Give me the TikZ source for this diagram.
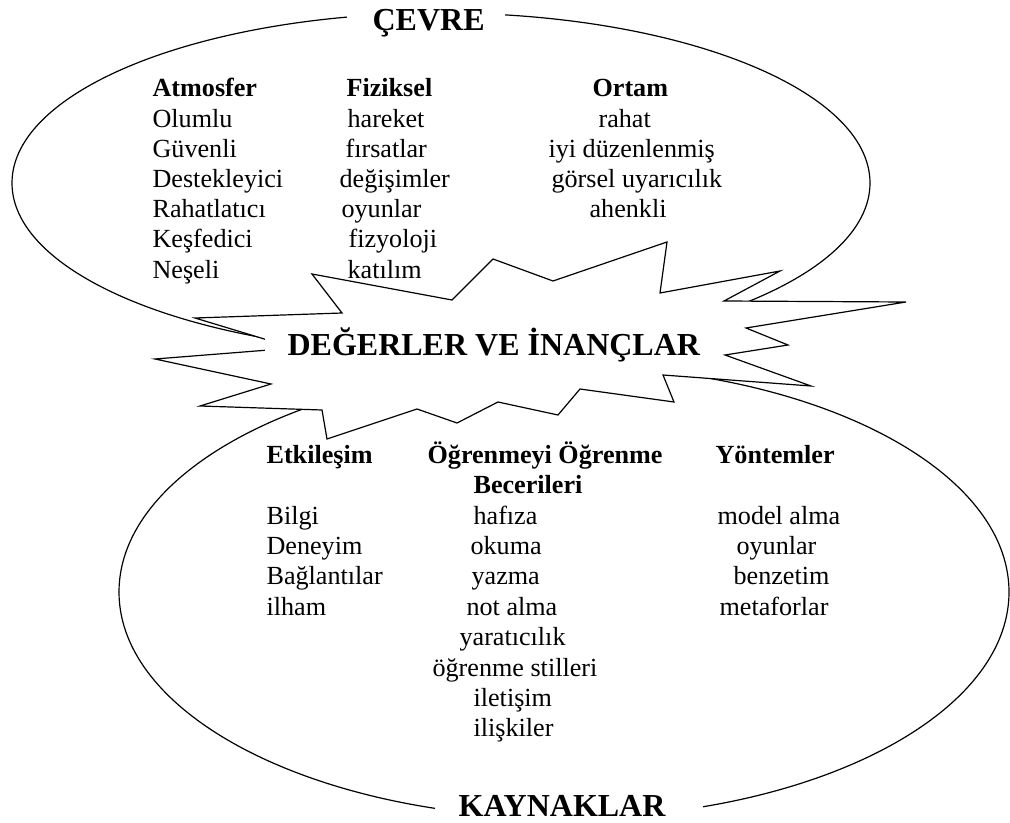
\documentclass[tikz,border=0pt]{standalone}
\usepackage{fontspec}
\setmainfont{Liberation Serif}
\begin{document}
\begin{tikzpicture}[x=0.75pt,y=-0.75pt,line width=0.9pt,
  txt/.style={anchor=base west,inner sep=0pt,font=\fontsize{19.6}{23}\selectfont},
  hd/.style={anchor=base west,inner sep=0pt,font=\fontsize{19.6}{23}\selectfont\bfseries},
  big/.style={anchor=base west,inner sep=0pt,font=\fontsize{24}{28}\selectfont\bfseries}]
\useasboundingbox (0,0) rectangle (1010,823);
% ellipses
\draw (441,183) ellipse [x radius=429, y radius=170];
\draw (564,592) ellipse [x radius=445, y radius=226];
% starburst
\filldraw[fill=white,line join=miter] (195,318) -- (342,313) -- (312,274) -- (452,300) -- (493,259) -- (553,281) -- (667,242) -- (660,293) -- (780,271) -- (724,301) -- (906,302) -- (746,328) -- (788,345) -- (725,355) -- (811,386) -- (663,375) -- (674,402) -- (580,389) -- (558,415) -- (498,402) -- (457,423) -- (417,409) -- (327,439) -- (322,410) -- (200,406) -- (271,384) -- (155,359) -- (294,348) -- cycle;
% white label boxes
\fill[white] (265,322) rectangle (718,372);
\fill[white] (347,0) rectangle (505,40);
\fill[white] (435,785) rectangle (703,823);
% titles
\node[big] (cevre) at (372,31) {ÇEVRE};
\node[big] (deger) at (287,356) {DEĞERLER VE İNANÇLAR};
\node[big] (kaynak) at (458,816) {KAYNAKLAR};
% upper columns
\node[hd]  (a0) at (152,97) {Atmosfer};
\node[txt] (a1) at (152,127.2) {Olumlu};
\node[txt] (a2) at (152,157.4) {Güvenli};
\node[txt] (a3) at (152,187.6) {Destekleyici};
\node[txt] (a4) at (152,217.8) {Rahatlatıcı};
\node[txt] (a5) at (152,248) {Keşfedici};
\node[txt] (a6) at (152,278.2) {Neşeli};
\node[hd]  (f0) at (346,97) {Fiziksel};
\node[txt] (f1) at (347,127.2) {hareket};
\node[txt] (f2) at (345,157.4) {fırsatlar};
\node[txt] (f3) at (339,187.6) {değişimler};
\node[txt] (f4) at (341,217.8) {oyunlar};
\node[txt] (f5) at (348,248) {fizyoloji};
\node[txt] (f6) at (347,278.2) {katılım};
\node[hd]  (o0) at (592,97) {Ortam};
\node[txt] (o1) at (598,127.2) {rahat};
\node[txt] (o2) at (548,157.4) {iyi düzenlenmiş};
\node[txt] (o3) at (551,187.6) {görsel uyarıcılık};
\node[txt] (o4) at (589,217.8) {ahenkli};
% lower columns
\node[hd]  (e0) at (266,463) {Etkileşim};
\node[txt] (e1) at (266,524) {Bilgi};
\node[txt] (e2) at (266,554.4) {Deneyim};
\node[txt] (e3) at (266,584.8) {Bağlantılar};
\node[txt] (e4) at (266,615.2) {ilham};
\node[hd]  (g0) at (427,463) {Öğrenmeyi Öğrenme};
\node[hd]  (g1) at (473,493.5) {Becerileri};
\node[txt] (g2) at (473,524) {hafıza};
\node[txt] (g3) at (470,554.4) {okuma};
\node[txt] (g4) at (471,584.8) {yazma};
\node[txt] (g5) at (466,615.2) {not alma};
\node[txt] (g6) at (459,645.6) {yaratıcılık};
\node[txt] (g7) at (432,676) {öğrenme stilleri};
\node[txt] (g8) at (473,706.4) {iletişim};
\node[txt] (g9) at (473,736.8) {ilişkiler};
\node[hd]  (y0) at (715,463) {Yöntemler};
\node[txt] (y1) at (717,524) {model alma};
\node[txt] (y2) at (736,554.4) {oyunlar};
\node[txt] (y3) at (733,584.8) {benzetim};
\node[txt] (y4) at (719,615.2) {metaforlar};
\end{tikzpicture}
\end{document}
